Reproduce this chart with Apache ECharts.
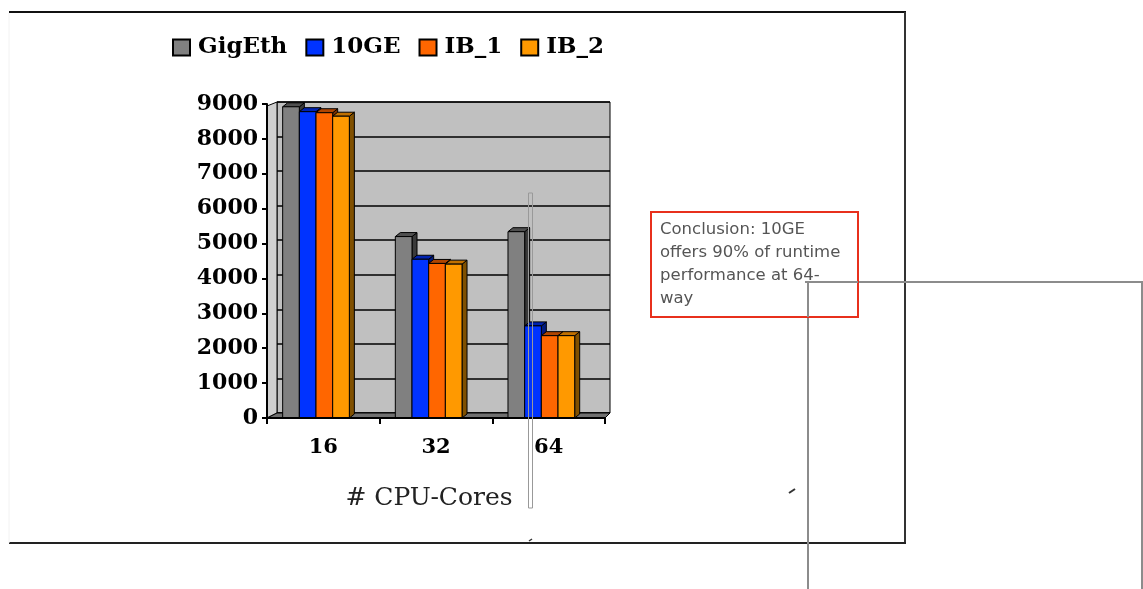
<!DOCTYPE html>
<html>
<head>
<meta charset="utf-8">
<script src="https://cdn.jsdelivr.net/npm/echarts@6/dist/echarts.min.js"></script>
<style>
  html, body { margin: 0; padding: 0; background: #fff; }
  #chart { width: 1143px; height: 589px; }
</style>
</head>
<body>
<div id="chart"></div>
<script>
// Runtime by core count for each interconnect
const categories = ['16', '32', '64'];
const seriesNames = ['GigEth', '10GE', 'IB_1', 'IB_2'];
const gigEth = [8920, 5200, 5340];
const tenGE  = [8780, 4550, 2640];
const ib1    = [8750, 4430, 2360];
const ib2    = [8650, 4410, 2360];
const yTicks = { min: 0, max: 9000, interval: 1000 };

const seriesValues = [gigEth, tenGE, ib1, ib2];
const faceColors = ['#808080', '#0033ff', '#ff6600', '#ff9900'];
const sideColors = ['#3a3a3a', '#001a80', '#7a3000', '#805000'];
const topColors  = ['#505050', '#0022b0', '#b04500', '#c07000'];

const serifBold = { fontFamily: 'DejaVu Serif', fontWeight: 'bold', color: '#000' };

// 3D column: front face, right side and top, offset back into the chart
function bar3d(si) {
  return function (params, api) {
    const cat = api.value(0);
    const val = api.value(1);
    const base = api.coord([cat, 0]);
    const top = api.coord([cat, val]);
    const band = api.size([1, 0])[0];
    const bw = band * 0.148;
    const x0 = base[0] - band * 0.065 + (si - 2) * bw;
    const dx = 5, dy = 4;
    const y0 = top[1], y1 = base[1];
    const stroke = { stroke: '#000', lineWidth: 1 };
    return {
      type: 'group',
      children: [
        { type: 'polygon', shape: { points: [[x0 + bw, y0], [x0 + bw + dx, y0 - dy], [x0 + bw + dx, y1 - dy], [x0 + bw, y1]] },
          style: Object.assign({ fill: sideColors[si] }, stroke) },
        { type: 'polygon', shape: { points: [[x0, y0], [x0 + dx, y0 - dy], [x0 + bw + dx, y0 - dy], [x0 + bw, y0]] },
          style: Object.assign({ fill: topColors[si] }, stroke) },
        { type: 'rect', shape: { x: x0, y: y0, width: bw, height: y1 - y0 },
          style: Object.assign({ fill: faceColors[si] }, stroke) }
      ]
    };
  };
}

const series = seriesNames.map(function (name, si) {
  return {
    name: name,
    type: 'custom',
    xAxisIndex: 0,
    yAxisIndex: 0,
    z: 5 + si,
    itemStyle: { color: faceColors[si], borderColor: '#000', borderWidth: 1.5 },
    renderItem: bar3d(si),
    encode: { x: 0, y: 1 },
    data: seriesValues[si].map(function (v, i) { return [i, v]; })
  };
});

const chart = echarts.init(document.getElementById('chart'), null, { renderer: 'canvas' });

chart.setOption({
  backgroundColor: '#fff',
  animation: false,
  legend: {
    data: seriesNames.map(function (n) { return { name: n, icon: 'rect' }; }),
    left: 172,
    top: 36,
    padding: 0,
    itemWidth: 17,
    itemHeight: 16,
    itemGap: 18,
    textStyle: Object.assign({ fontSize: 23, padding: [0, 0, 0, 3] }, serifBold)
  },
  grid: [
    // front plane, carries the axes and the columns
    { left: 267, top: 104, width: 338, height: 314 },
    // back wall
    { left: 277, top: 102, width: 333, height: 311, show: true, backgroundColor: '#c0c0c0',
      borderColor: '#000', borderWidth: 1 }
  ],
  xAxis: [
    {
      gridIndex: 0, type: 'category', data: categories,
      axisLine: { show: true, lineStyle: { color: '#000', width: 2 } },
      axisTick: { show: true, length: 6, lineStyle: { color: '#000', width: 2 } },
      axisLabel: Object.assign({ fontSize: 21, margin: 19 }, serifBold),
      name: '# CPU-Cores',
      nameLocation: 'middle',
      nameGap: 68,
      nameTextStyle: { fontFamily: 'DejaVu Serif', fontSize: 25, color: '#222', padding: [0, 14, 0, 0] },
      z: 10
    },
    { gridIndex: 1, type: 'category', data: categories, show: false }
  ],
  yAxis: [
    {
      gridIndex: 0, type: 'value', min: yTicks.min, max: yTicks.max, interval: yTicks.interval,
      axisLine: { show: true, lineStyle: { color: '#000', width: 2 } },
      axisTick: { show: true, length: 5, lineStyle: { color: '#000', width: 2 } },
      axisLabel: Object.assign({ fontSize: 22, margin: 9, formatter: function (v) { return String(v); } }, serifBold),
      splitLine: { show: false },
      z: 10
    },
    {
      gridIndex: 1, type: 'value', min: yTicks.min, max: yTicks.max, interval: yTicks.interval,
      axisLine: { show: false }, axisTick: { show: false }, axisLabel: { show: false },
      splitLine: { show: true, lineStyle: { color: '#000', width: 1.5 } }
    }
  ],
  series: series,
  graphic: [
    // left side wall and floor of the plot box
    { type: 'polygon', z: 1, shape: { points: [[267, 106], [277, 102], [277, 413], [267, 418]] },
      style: { fill: '#d0d0d0', stroke: '#000', lineWidth: 1 } },
    { type: 'polygon', z: 1, shape: { points: [[267, 418], [277, 413], [610, 413], [605, 418]] },
      style: { fill: '#707070', stroke: '#000', lineWidth: 1 } },
    // page frame
    { type: 'line', shape: { x1: 9, y1: 12, x2: 906, y2: 12 }, style: { stroke: '#111', lineWidth: 2 } },
    { type: 'line', shape: { x1: 905, y1: 12, x2: 905, y2: 544 }, style: { stroke: '#333', lineWidth: 2 } },
    { type: 'line', shape: { x1: 9, y1: 543, x2: 906, y2: 543 }, style: { stroke: '#222', lineWidth: 2 } },
    { type: 'line', shape: { x1: 9, y1: 13, x2: 9, y2: 543 }, style: { stroke: '#f2f2f2', lineWidth: 1 } },
    // thin vertical marker through the 64 group
    { type: 'rect', z: 20, shape: { x: 528.5, y: 193, width: 4, height: 315 },
      style: { fill: null, stroke: '#999', lineWidth: 1 } },
    // connector lines
    { type: 'line', shape: { x1: 805, y1: 282, x2: 1143, y2: 282 }, style: { stroke: '#8c8c8c', lineWidth: 2 } },
    { type: 'line', shape: { x1: 808, y1: 282, x2: 808, y2: 589 }, style: { stroke: '#8c8c8c', lineWidth: 2 } },
    { type: 'line', shape: { x1: 1142, y1: 282, x2: 1142, y2: 589 }, style: { stroke: '#8c8c8c', lineWidth: 2 } },
    // stray pen marks
    { type: 'line', shape: { x1: 789, y1: 493, x2: 795, y2: 489 }, style: { stroke: '#333', lineWidth: 2 } },
    { type: 'line', shape: { x1: 529, y1: 541, x2: 532, y2: 539 }, style: { stroke: '#333', lineWidth: 1.5 } },
    // conclusion box
    { type: 'rect', z: 30, shape: { x: 651, y: 212, width: 207, height: 105 },
      style: { fill: '#fff', stroke: '#e8301c', lineWidth: 2 } },
    { type: 'text', z: 31, left: 660, top: 218,
      style: { text: 'Conclusion: 10GE\noffers 90% of runtime\nperformance at 64-\nway',
        font: '16.5px "DejaVu Sans"', fill: '#555', lineHeight: 23 } },
    { type: 'line', z: 32, shape: { x1: 805, y1: 282, x2: 858, y2: 282 }, style: { stroke: '#8c8c8c', lineWidth: 2 } },
    { type: 'line', z: 32, shape: { x1: 808, y1: 282, x2: 808, y2: 317 }, style: { stroke: '#8c8c8c', lineWidth: 2 } }
  ]
});
</script>
</body>
</html>
